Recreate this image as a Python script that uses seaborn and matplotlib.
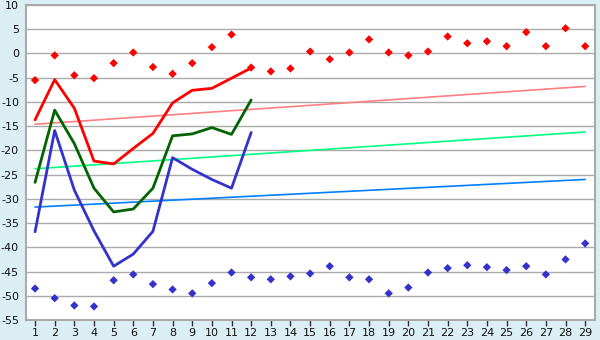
import numpy as np
import pandas as pd
import matplotlib
matplotlib.use("Agg")
import matplotlib.pyplot as plt
import seaborn as sns

# ---- data ----
days = list(range(1, 30))
red_points = [-5.5, -0.4, -4.5, -5.1, -2.0, 0.2, -2.8, -4.2, -2.0, 1.3, 3.9, -2.9, -3.7, -3.1,
              0.4, -1.2, 0.2, 2.9, 0.2, -0.4, 0.4, 3.5, 2.1, 2.5, 1.5, 4.4, 1.5, 5.2, 1.5]
blue_points = [-48.5, -50.5, -52.0, -52.2, -46.8, -45.6, -47.6, -48.7, -49.5, -47.4, -45.2, -46.2,
               -46.6, -46.0, -45.4, -43.9, -46.2, -46.6, -49.5, -48.3, -45.2, -44.3, -43.7, -44.1,
               -44.7, -43.9, -45.6, -42.5, -39.2]
line_days = list(range(1, 13))
red_line = [-13.7, -5.4, -11.3, -22.2, -22.8, -19.6, -16.5, -10.2, -7.6, -7.2, -5.1, -3.0]
green_line = [-26.6, -11.7, -18.6, -27.8, -32.7, -32.1, -27.8, -17.0, -16.6, -15.3, -16.7, -9.6]
blue_line = [-36.8, -15.9, -28.2, -36.6, -43.9, -41.4, -36.7, -21.5, -23.9, -26.0, -27.8, -16.3]
trend_days = [1, 29]
red_trend = [-14.6, -6.8]
green_trend = [-23.8, -16.2]
blue_trend = [-31.7, -26.0]
y_ticks = list(range(-55, 11, 5))

bg = "#DAEEF4"
sns.set_theme(style="white")
plt.rcParams['font.family'] = ['DejaVu Sans']

fig = plt.figure(figsize=(6, 3.4), dpi=100, facecolor=bg)
ax = fig.add_axes([26/600, 20/340, (595-26)/600, (320-5)/340])
ax.set_facecolor("white")

# trend lines
for vals, col in [(red_trend, "#FF8080"), (green_trend, "#00FF80"), (blue_trend, "#0080FF")]:
    sns.lineplot(x=trend_days, y=vals, ax=ax, color=col, linewidth=1.2)

# main lines
for vals, col in [(red_line, "#FF0000"), (green_line, "#006400"), (blue_line, "#3333CC")]:
    sns.lineplot(x=line_days, y=vals, ax=ax, color=col, linewidth=2)

# points
sns.scatterplot(x=days, y=red_points, ax=ax, color="#FF0000", marker="D", s=18, edgecolor="none")
sns.scatterplot(x=days, y=blue_points, ax=ax, color="#3333CC", marker="D", s=18, edgecolor="none")

ax.set_xlim(0.54, 29.5)
ax.set_ylim(-55, 10)
ax.set_yticks(y_ticks)
ax.set_yticklabels([str(v) for v in y_ticks])
ax.set_xticks(days)
ax.set_xticklabels([str(d) for d in days])
ax.yaxis.grid(True, color="#AAAAAA", linewidth=1)
ax.xaxis.grid(False)
ax.set_axisbelow(True)
for s in ax.spines.values():
    s.set_color("#AAAAAA")
    s.set_linewidth(1.5)
ax.tick_params(axis="both", which="both", width=1, color="#333333",
               labelsize=8, labelcolor="#111111", direction="out")
ax.tick_params(axis="y", length=3.5, pad=1.5)
ax.tick_params(axis="x", length=4, pad=2, bottom=True)
ax.set_xlabel("")
ax.set_ylabel("")

fig.savefig("out.png", dpi=100, facecolor=bg)
